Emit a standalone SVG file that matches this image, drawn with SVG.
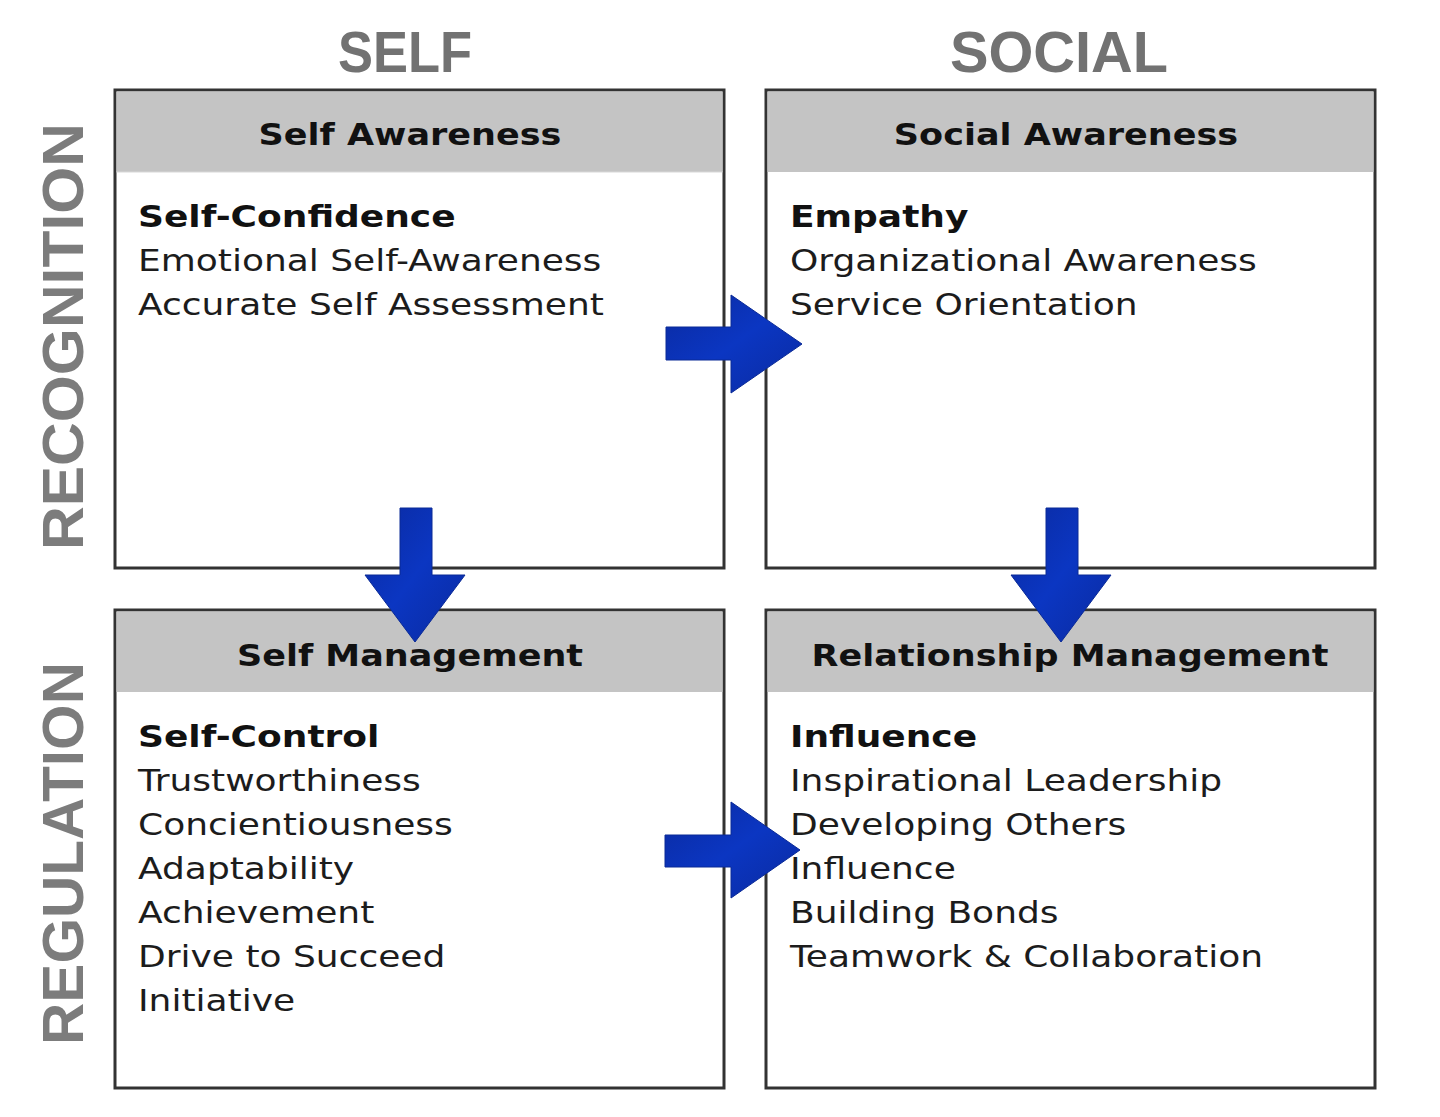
<svg xmlns="http://www.w3.org/2000/svg" width="1440" height="1117" viewBox="0 0 1440 1117">
<style>
.title{font-family:"Liberation Sans",Arial,sans-serif;font-weight:bold;font-size:58px;fill:#727272;text-anchor:middle}
.side{font-family:"Liberation Sans",Arial,sans-serif;font-weight:bold;font-size:58px;fill:#7c7c7c;text-anchor:middle}
.box{fill:#ffffff;stroke:#333333;stroke-width:3}
.hdr{fill:#c4c4c4}
.htxt{font-family:"DejaVu Sans",Verdana,sans-serif;font-weight:bold;font-size:31px;fill:#111111;text-anchor:middle}
.b{font-family:"DejaVu Sans",Verdana,sans-serif;font-weight:bold;font-size:30px;fill:#111111}
.t{font-family:"DejaVu Sans",Verdana,sans-serif;font-size:30px;fill:#1c1c1c}
.arrow{fill:url(#blue);stroke:#0a2a96;stroke-width:1}
</style>
<defs>
<linearGradient id="blue" x1="0" y1="0" x2="1" y2="1">
<stop offset="0" stop-color="#0a2aa0"/>
<stop offset="0.5" stop-color="#0b36c2"/>
<stop offset="1" stop-color="#0a2aa0"/>
</linearGradient>
</defs>
<rect width="1440" height="1117" fill="#ffffff"/>
<g id="axis-labels">
<text class="title" x="405" y="72" textLength="134" lengthAdjust="spacingAndGlyphs">SELF</text>
<text class="title" x="1059" y="72" textLength="218" lengthAdjust="spacingAndGlyphs">SOCIAL</text>
<text class="side" transform="translate(83,336.5) rotate(-90)" textLength="427" lengthAdjust="spacingAndGlyphs">RECOGNITION</text>
<text class="side" transform="translate(83,853.5) rotate(-90)" textLength="383" lengthAdjust="spacingAndGlyphs">REGULATION</text>
</g>
<g id="self-awareness">
<rect class="box" x="115" y="90" width="609" height="478"/>
<rect class="hdr" x="116.5" y="91.5" width="606" height="80.5"/>
<line x1="116.5" y1="172" x2="722.5" y2="172" stroke="#d8d8d8" stroke-width="1"/>
<g transform="translate(410,0) scale(1.13,1)"><text class="htxt" x="0" y="145">Self Awareness</text></g>
<g transform="translate(138,0) scale(1.2,1)">
<text class="b" x="0" y="227">Self-Confidence</text>
<text class="t" x="0" y="271">Emotional Self-Awareness</text>
<text class="t" x="0" y="315">Accurate Self Assessment</text>
</g>
</g>
<g id="social-awareness">
<rect class="box" x="766" y="90" width="609" height="478"/>
<rect class="hdr" x="767.5" y="91.5" width="606" height="80.5"/>
<g transform="translate(1066,0) scale(1.13,1)"><text class="htxt" x="0" y="145">Social Awareness</text></g>
<g transform="translate(790,0) scale(1.2,1)">
<text class="b" x="0" y="227">Empathy</text>
<text class="t" x="0" y="271">Organizational Awareness</text>
<text class="t" x="0" y="315">Service Orientation</text>
</g>
</g>
<g id="self-management">
<rect class="box" x="115" y="610" width="609" height="478"/>
<rect class="hdr" x="116.5" y="611.5" width="606" height="80.5"/>
<g transform="translate(410,0) scale(1.13,1)"><text class="htxt" x="0" y="666">Self Management</text></g>
<g transform="translate(138,0) scale(1.2,1)">
<text class="b" x="0" y="747">Self-Control</text>
<text class="t" x="0" y="791">Trustworthiness</text>
<text class="t" x="0" y="835">Concientiousness</text>
<text class="t" x="0" y="879">Adaptability</text>
<text class="t" x="0" y="923">Achievement</text>
<text class="t" x="0" y="967">Drive to Succeed</text>
<text class="t" x="0" y="1011">Initiative</text>
</g>
</g>
<g id="relationship-management">
<rect class="box" x="766" y="610" width="609" height="478"/>
<rect class="hdr" x="767.5" y="611.5" width="606" height="80.5"/>
<g transform="translate(1070,0) scale(1.13,1)"><text class="htxt" x="0" y="666">Relationship Management</text></g>
<g transform="translate(790,0) scale(1.2,1)">
<text class="b" x="0" y="747">Influence</text>
<text class="t" x="0" y="791">Inspirational Leadership</text>
<text class="t" x="0" y="835">Developing Others</text>
<text class="t" x="0" y="879">Influence</text>
<text class="t" x="0" y="923">Building Bonds</text>
<text class="t" x="0" y="967">Teamwork &amp; Collaboration</text>
</g>
</g>
<g id="connectors">
<polygon class="arrow" points="666,327 731,327 731,295 802,344 731,393 731,360 666,360"/>
<polygon class="arrow" points="665,835 731,835 731,802 800,850 731,898 731,867 665,867"/>
<polygon class="arrow" points="400,508 432,508 432,575 465,575 415,642 365,575 400,575"/>
<polygon class="arrow" points="1046,508 1078,508 1078,575 1111,575 1061,642 1011,575 1046,575"/>
</g>
</svg>
